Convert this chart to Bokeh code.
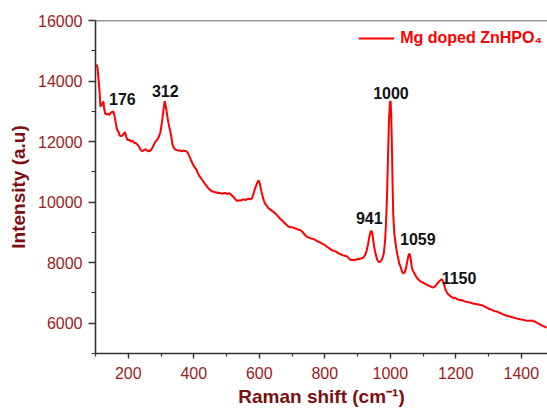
from bokeh.plotting import figure
from bokeh.models import FixedTicker, Legend, LegendItem, Span, ColumnDataSource
from bokeh.core.properties import value
from bokeh.embed import file_html
from bokeh.resources import INLINE

# Raman spectrum
raman_shift = [
    103, 106, 109, 112, 115, 118, 121, 124, 127, 130, 134, 138, 142, 146, 150, 154, 158, 162, 166, 170,
    174, 178, 182, 186, 190, 194, 198, 203, 208, 213, 218, 223, 228, 233, 238, 243, 248, 253, 258, 263,
    268, 273, 278, 283, 288, 293, 298, 303, 307, 311, 315, 319, 323, 327, 331, 335, 339, 343, 348, 353,
    358, 363, 368, 373, 378, 383, 388, 393, 398, 403, 408, 413, 418, 423, 428, 433, 438, 443, 448, 453,
    458, 463, 468, 473, 478, 483, 488, 493, 498, 503, 508, 513, 518, 523, 528, 533, 538, 543, 548, 553,
    558, 563, 568, 573, 578, 583, 588, 593, 598, 602, 606, 610, 614, 618, 623, 628, 633, 638, 643, 648,
    653, 658, 663, 668, 673, 678, 683, 688, 693, 698, 703, 708, 713, 718, 723, 728, 733, 738, 743, 748,
    753, 758, 763, 768, 773, 778, 783, 788, 793, 798, 803, 808, 813, 818, 823, 828, 833, 838, 843, 848,
    853, 858, 863, 868, 873, 878, 883, 888, 893, 898, 903, 908, 913, 918, 923, 928, 932, 936, 940, 943,
    946, 949, 952, 956, 960, 964, 968, 972, 976, 980, 984, 987, 990, 993, 996, 999, 1001, 1003, 1005, 1007,
    1009, 1012, 1016, 1020, 1024, 1028, 1032, 1036, 1040, 1044, 1048, 1052, 1056, 1059, 1062, 1065, 1068, 1072, 1076, 1080,
    1085, 1090, 1095, 1100, 1105, 1110, 1115, 1120, 1125, 1130, 1135, 1140, 1145, 1150, 1155, 1158, 1161, 1165, 1169, 1173,
    1178, 1183, 1188, 1193, 1198, 1203, 1208, 1213, 1218, 1223, 1228, 1234, 1240, 1246, 1252, 1258, 1264, 1270, 1276, 1282,
    1288, 1294, 1300, 1306, 1312, 1318, 1324, 1330, 1336, 1342, 1348, 1354, 1360, 1366, 1372, 1378, 1384, 1390, 1396, 1402,
    1408, 1414, 1420, 1426, 1432, 1438, 1444, 1450, 1456, 1462, 1468, 1474, 1478,
]
intensity = [
    14550, 14450, 14100, 13700, 13150, 13200, 13250, 13330, 13050, 12920, 12900, 12920, 12880, 12950, 12970, 13000, 12850, 12600, 12380, 12330,
    12200, 12180, 12200, 12250, 12320, 12150, 12050, 12060, 12000, 12030, 11960, 11950, 11900, 11830, 11720, 11680, 11720, 11750, 11700, 11680,
    11700, 11780, 11900, 12000, 12050, 12150, 12300, 12650, 13000, 13340, 13150, 12850, 12600, 12400, 12200, 11900, 11800, 11740, 11720, 11700,
    11710, 11680, 11700, 11690, 11680, 11600, 11480, 11350, 11230, 11150, 11080, 10950, 10850, 10780, 10700, 10620, 10550, 10480, 10420, 10380,
    10350, 10330, 10330, 10300, 10310, 10290, 10280, 10300, 10290, 10270, 10300, 10260, 10200, 10150, 10080, 10040, 10060, 10050, 10080, 10090,
    10070, 10100, 10110, 10090, 10130, 10300, 10480, 10620, 10720, 10600, 10380, 10200, 10050, 9940, 9880, 9800, 9760, 9720, 9680, 9630,
    9580, 9520, 9460, 9410, 9360, 9300, 9250, 9200, 9180, 9170, 9160, 9140, 9120, 9100, 9080, 9060, 9000, 8940, 8880, 8840,
    8820, 8800, 8790, 8770, 8740, 8700, 8680, 8660, 8620, 8600, 8560, 8520, 8480, 8440, 8410, 8390, 8370, 8340, 8300, 8280,
    8250, 8240, 8220, 8210, 8150, 8100, 8090, 8100, 8080, 8120, 8110, 8130, 8150, 8170, 8250, 8400, 8600, 8850, 9030, 9050,
    8900, 8650, 8450, 8250, 8100, 8030, 8020, 8060, 8150, 8300, 8700, 9300, 10200, 11500, 12700, 13300, 13340, 12800, 11800, 10600,
    9600, 9000, 8650, 8350, 8150, 7950, 7850, 7700, 7640, 7680, 7820, 8050, 8260, 8300, 8150, 7900, 7760, 7680, 7600, 7520,
    7450, 7400, 7370, 7340, 7310, 7280, 7250, 7230, 7200, 7180, 7200, 7260, 7330, 7390, 7440, 7450, 7380, 7250, 7100, 7010,
    6950, 6900, 6860, 6830, 6840, 6800, 6780, 6760, 6770, 6740, 6720, 6700, 6690, 6680, 6650, 6640, 6630, 6620, 6600, 6590,
    6550, 6520, 6480, 6460, 6430, 6400, 6390, 6360, 6340, 6300, 6280, 6250, 6230, 6220, 6200, 6180, 6160, 6150, 6130, 6120,
    6110, 6090, 6080, 6080, 6090, 6070, 6040, 6000, 5970, 5930, 5900, 5870, 5860,
]

peak_labels = ["176", "312", "1000", "941", "1059", "1150"]
peak_label_x = [182, 313, 1002, 936, 1084, 1210]
peak_label_y = [13393, 13667, 13614, 9466, 8773, 7500]

x_major = [200, 400, 600, 800, 1000, 1200, 1400]
x_minor = [100, 300, 500, 700, 900, 1100, 1300]
y_major = [6000, 8000, 10000, 12000, 14000, 16000]
y_minor = [5000, 7000, 9000, 11000, 13000, 15000]

series_name = "Mg doped ZnHPO\u2084"

FONT = "Liberation Sans"
TICK_COLOR = "#9b1c1c"
LABEL_COLOR = "#7d0f0f"
AXIS_COLOR = "#333333"

p = figure(width=547, height=420, output_backend="svg", toolbar_location=None,
           x_range=(100, 1480), y_range=(5000, 16000),
           min_border_left=95, min_border_right=0, min_border_top=20, min_border_bottom=67)
p.outline_line_color = None
p.grid.visible = False
p.background_fill_color = "white"
p.border_fill_color = "white"

src = ColumnDataSource(dict(x=raman_shift, y=intensity))
r = p.line("x", "y", source=src, line_color="#ff0000", line_width=2)

p.text(x=peak_label_x, y=peak_label_y, text=peak_labels, text_align="center",
       text_baseline="alphabetic", text_font=value(FONT), text_font_style="bold",
       text_font_size="16px", text_color="#111111")

# top frame line
p.add_layout(Span(location=16000, dimension="width", line_color=AXIS_COLOR, line_width=1.6))

p.xaxis.ticker = FixedTicker(ticks=x_major, minor_ticks=x_minor)
p.yaxis.ticker = FixedTicker(ticks=y_major, minor_ticks=y_minor)

for ax in (p.xaxis[0], p.yaxis[0]):
    ax.axis_line_color = AXIS_COLOR
    ax.axis_line_width = 1.6
    ax.major_tick_line_color = AXIS_COLOR
    ax.minor_tick_line_color = AXIS_COLOR
    ax.major_tick_line_width = 1.4
    ax.minor_tick_line_width = 1.2
    ax.major_tick_in = 0
    ax.minor_tick_in = 0
    ax.major_label_text_font = FONT
    ax.major_label_text_font_size = "16px"
    ax.major_label_text_color = TICK_COLOR
    ax.axis_label_text_font = FONT
    ax.axis_label_text_font_style = "bold"
    ax.axis_label_text_font_size = "19px"
    ax.axis_label_text_color = LABEL_COLOR

p.xaxis.major_tick_out = 5
p.xaxis.minor_tick_out = 3
p.yaxis.major_tick_out = 7
p.yaxis.minor_tick_out = 4
p.xaxis.major_label_standoff = 8
p.yaxis.major_label_standoff = 6
p.xaxis.axis_label = "Raman shift (cm\u207b\u00b9)"
p.yaxis.axis_label = "Intensity (a.u)"
p.xaxis.axis_label_standoff = 4
p.yaxis.axis_label_standoff = 6

legend = Legend(items=[LegendItem(label=series_name, renderers=[r])],
                location="top_right", margin=5, padding=8, spacing=0,
                glyph_width=36, glyph_height=26, label_height=26, label_standoff=6,
                label_text_font=FONT, label_text_font_style="bold",
                label_text_font_size="16px", label_text_color="#ff0000",
                border_line_color=None, background_fill_alpha=0)
p.add_layout(legend)

open("out.html", "w").write(file_html(p, INLINE))
